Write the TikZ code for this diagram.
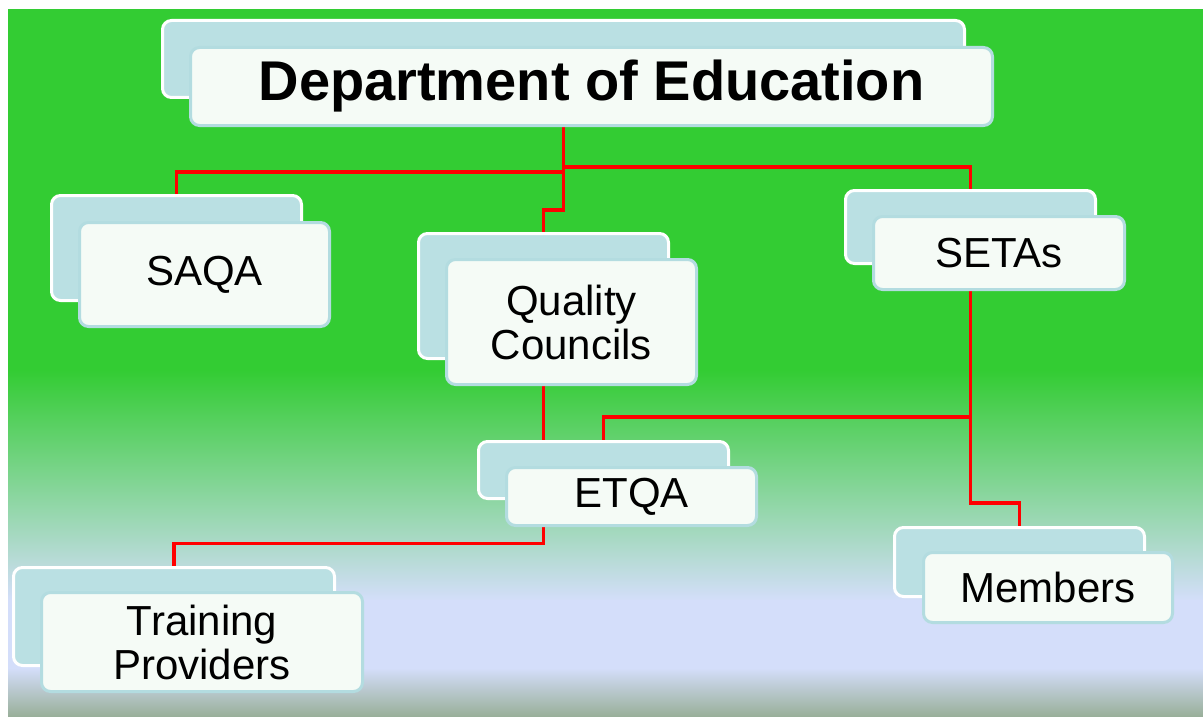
\documentclass[tikz,border=0pt]{standalone}
\usepackage{fontspec}
\setmainfont{Liberation Sans}
\definecolor{bggreen}{HTML}{33CC33}
\definecolor{lav}{HTML}{D4DEFA}
\definecolor{bgray}{HTML}{98AE98}
\definecolor{backfill}{HTML}{BAE0E3}
\definecolor{frontline}{HTML}{B3DCE0}
\definecolor{frontfill}{HTML}{F5FBF6}
\pgfdeclarelayer{bgfill}
\pgfdeclarelayer{lines}
\pgfsetlayers{bgfill,lines,main}
\begin{document}
\begin{tikzpicture}[x=1pt,y=-1pt,
  back/.style={draw=white, line width=3pt, fill=backfill, rounded corners=9pt, inner sep=0pt},
  front/.style={draw=frontline, line width=3pt, fill=frontfill,
    rounded corners=9pt, inner sep=0pt, align=center, font=\fontsize{42}{44}\selectfont},
  conn/.style={draw=red, line width=3.6pt}]
\useasboundingbox (0,0) rectangle (1203,717);
\begin{pgfonlayer}{bgfill}
\fill[white] (0,0) rectangle (1203,717);
\fill[bggreen] (8,9) rectangle (1203,371);
\shade[top color=bggreen,bottom color=lav] (8,370) rectangle (1203,601);
\fill[lav] (8,600) rectangle (1203,669);
\shade[top color=lav,bottom color=bgray] (8,668) rectangle (1203,717);
\end{pgfonlayer}

% back boxes
\node[back, minimum width=802, minimum height=77] (deptb) at (563.5,59) {};
\node[back, minimum width=250, minimum height=105] (saqab) at (176.5,248) {};
\node[back, minimum width=250, minimum height=125] (qcb) at (543.5,296) {};
\node[back, minimum width=250, minimum height=73] (setab) at (970.5,227) {};
\node[back, minimum width=250, minimum height=57] (etqab) at (603.5,470) {};
\node[back, minimum width=321, minimum height=98] (tpb) at (174,616.5) {};
\node[back, minimum width=250, minimum height=69] (memb) at (1019.5,562) {};

% front boxes with text
\node[front, minimum width=802, minimum height=78, font=\fontsize{56}{60}\selectfont\bfseries] (deptf) at (591.5,86.5) {Department of Education};
\node[front, minimum width=250, minimum height=104] (saqaf) at (204.5,274.5) {SAQA};
\node[front, minimum width=250, minimum height=125] (qcf) at (571.5,322) {Quality\\Councils};
\node[front, minimum width=251, minimum height=73] (setaf) at (999,253) {SETAs};
\node[front, minimum width=250, minimum height=58] (etqaf) at (631.5,496.5) {ETQA};
\node[front, minimum width=321, minimum height=99] (tpf) at (202,642) {Training\\Providers};
\node[front, minimum width=249, minimum height=70] (memf) at (1048,587.5) {Members};

% junction coordinates
\coordinate (jL) at (176.5,172);
\coordinate (jR) at (970.5,167);
\coordinate (jQ) at (543.5,210);
\coordinate (jE) at (603.5,417);
\coordinate (jM) at (1019.5,503);
\coordinate (jT) at (174,543.5);
\coordinate (eA) at (543.5,500);

\begin{pgfonlayer}{lines}
\draw[conn] (deptb.south) |- (jL) -| (saqab.north);
\draw[conn] (deptb.south) |- (jR) -| (setab.north);
\draw[conn] (deptb.south) |- (jQ) -| (qcb.north);
\draw[conn] (qcb.north) -- (qcb.north |- etqab.north);
\draw[conn] (setab.north) |- (jE) -| (etqab.north);
\draw[conn] (setab.north) |- (jM) -| (memb.north);
\draw[conn] (eA) |- (jT) -| (tpb.north);
\end{pgfonlayer}
\end{tikzpicture}
\end{document}
